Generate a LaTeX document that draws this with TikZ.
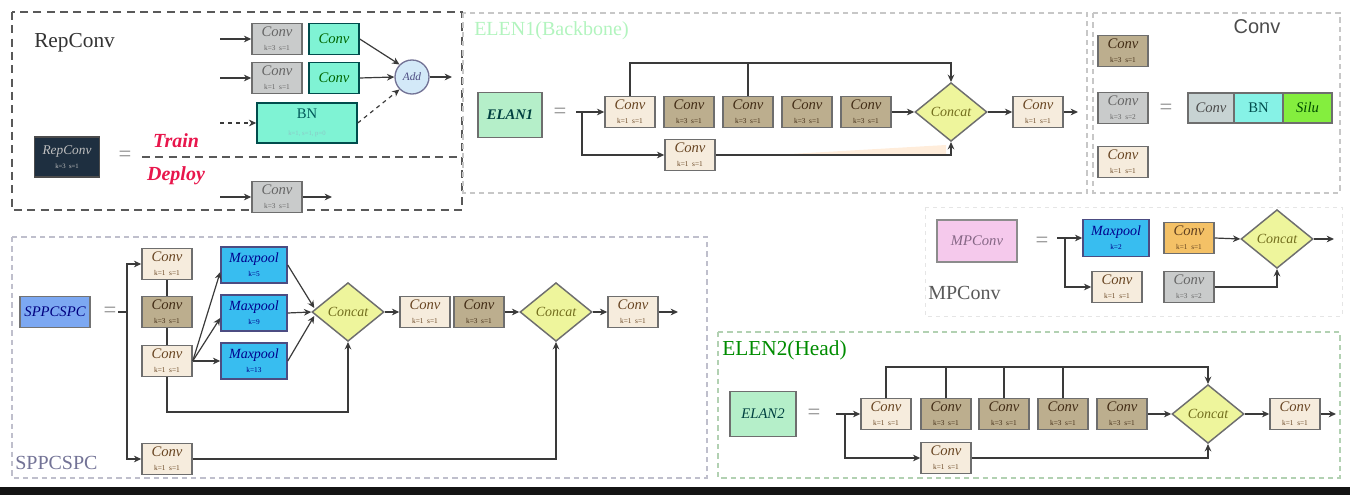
\documentclass[tikz,border=0pt]{standalone}
\usepackage{fontspec}
\setmainfont{Liberation Serif}
\newfontfamily\sansfam{Liberation Sans}
\usetikzlibrary{arrows.meta,shapes.geometric,calc}

\definecolor{creamc}{HTML}{F6ECDD}
\definecolor{tanc}{HTML}{BCAE8E}
\definecolor{greyc}{HTML}{C9CBCB}
\definecolor{tealc}{HTML}{7FF3D4}
\definecolor{poolc}{HTML}{38BDF0}
\definecolor{catc}{HTML}{EEF59C}
\definecolor{mintc}{HTML}{B5EFC9}
\definecolor{sppc}{HTML}{7CA8F2}
\definecolor{pinkc}{HTML}{F5C9EC}
\definecolor{navyc}{HTML}{1E2F40}
\definecolor{addc}{HTML}{D3E9F8}
\definecolor{orangec}{HTML}{F4C166}
\definecolor{bnc}{HTML}{86F2E6}
\definecolor{siluc}{HTML}{84EE3E}
\definecolor{convgc}{HTML}{C7D3D3}
\definecolor{linec}{HTML}{3A3A3A}
\definecolor{edgec}{HTML}{6E6E6E}
\definecolor{trainc}{HTML}{E8164C}

% label inside a Conv block: name plus kernel/stride line
\newcommand\ks[2]{{\fontsize{11}{10}\selectfont\itshape Conv}\\[-1.5pt]{\fontsize{5.5}{6}\selectfont k=#1\enspace s=#2}}
\newcommand\mpk[1]{{\fontsize{10.5}{10}\selectfont\itshape Maxpool}\\[-1.5pt]{\fontsize{5.5}{6}\selectfont k=#1}}

\begin{document}
\begin{tikzpicture}[x=0.75pt,y=-0.75pt,
  flow/.style={draw=linec, line width=0.9pt},
  arr/.style={flow, -{Stealth[length=5.5pt,width=5pt]}},
  blk/.style={draw=edgec, line width=1.1pt, inner sep=0pt, align=center,
              minimum width=37.5pt, minimum height=23.5pt},
  cvcream/.style={blk, fill=creamc, text=brown!55!black},
  cvtan/.style={blk, fill=tanc, text=brown!35!black},
  cvgrey/.style={blk, fill=greyc, text=black!60},
  cvorange/.style={blk, fill=orangec, text=brown!50!black},
  cvteal/.style={blk, fill=tealc, draw=teal!60!black, text=green!40!black,
                 font=\fontsize{11}{11}\selectfont\itshape},
  pool/.style={blk, fill=poolc, draw=blue!30!black!70, text=blue!55!black,
               minimum width=49.5pt, minimum height=27pt},
  cat/.style={diamond, draw=edgec, line width=1.1pt, fill=catc, aspect=1.25,
              inner sep=0pt, minimum width=54pt, minimum height=44pt,
              font=\fontsize{10.5}{11}\selectfont\itshape, text=olive!75!black},
  bigbox/.style={draw=edgec, line width=1.2pt, inner sep=0pt, align=center,
                 font=\fontsize{11}{12}\selectfont\itshape},
  eq/.style={font=\fontsize{17}{17}\selectfont, text=black!45, inner sep=0pt},
  ttl/.style={font=\fontsize{15}{17}\selectfont, inner sep=0pt, anchor=west},
  lab/.style={font=\fontsize{15}{17}\selectfont\bfseries\itshape, text=trainc, inner sep=0pt},
  repframe/.style={draw=black!65, line width=1pt, dash pattern=on 6pt off 4pt},
  greyframe/.style={draw=black!22, line width=0.8pt, dash pattern=on 4pt off 3pt},
  sppframe/.style={draw=blue!20!black!25, line width=0.8pt, dash pattern=on 4pt off 3pt},
  greenframe/.style={draw=green!40!black!30, line width=0.8pt, dash pattern=on 4pt off 3pt},
  faintframe/.style={draw=black!10, line width=0.7pt, dash pattern=on 3pt off 3pt},
  stripe/.style={draw=edgec, line width=1.1pt, inner sep=0pt, minimum height=22.5pt}
]
\useasboundingbox (0,0) rectangle (1350,495);

% bottom rule
\fill[black!92] (0,487) rectangle (1350,495);

% ================= RepConv =================
\draw[repframe] (12,12) rectangle (462,210);
\draw[repframe] (142,157) -- (462,157);
\node[ttl, text=black!80, font=\fontsize{16}{18}\selectfont] (rptitle) at (34,43) {RepConv};

\node[cvgrey] (r1) at (277,39) {\ks{3}{1}};
\node[cvteal] (t1) at (334,39) {Conv};
\node[cvgrey] (r2) at (277,78) {\ks{1}{1}};
\node[cvteal] (t2) at (334,78) {Conv};
\node[circle, draw=blue!25!black!55, line width=1pt, fill=addc, minimum size=25.5pt,
      inner sep=0pt, font=\fontsize{8.5}{8}\selectfont\itshape, text=blue!30!black!70] (add) at (412,77) {Add};
\node[blk, fill=tealc, draw=teal!60!black, minimum width=75pt, minimum height=30pt] (bn) at (307,123)
  {{\fontsize{11}{10}\selectfont\color{teal!70!black}BN}\\[1pt]{\fontsize{5}{6}\selectfont\color{teal!45} k=1, s=1, p=0}};

\coordinate (r1in) at (220,39);
\coordinate (r2in) at (220,78);
\coordinate (bnin) at (220,123);
\coordinate (addout) at (452,77);
\draw[arr] (r1in) -- (r1.west);
\draw[arr] (r2in) -- (r2.west);
\draw[arr, dashed] (bnin) -- (bn.west);
\draw[arr] (t1.east) -- (add.135);
\draw[arr] (t2.east) -- (add.west);
\draw[arr, dashed] (bn.east) -- (add.225);
\draw[arr] (add.east) -- (addout);

\node[bigbox, fill=navyc, draw=black!70, minimum width=49pt, minimum height=30pt, text=black!25] (rc) at (67,157)
  {{\fontsize{10}{10}\selectfont\itshape RepConv}\\[-1pt]{\fontsize{5}{6}\selectfont\upshape k=3\enspace s=1}};
\node[eq] (eq1) at (125,156) {=};
\node[lab] (train) at (176,141) {Train};
\node[lab] (deploy) at (176,176) {Deploy};

\node[cvgrey] (r3) at (277,197) {\ks{3}{1}};
\coordinate (r3in) at (220,197);
\coordinate (r3out) at (332,197);
\draw[arr] (r3in) -- (r3.west);
\draw[arr] (r3.east) -- (r3out);

% ================= ELEN1 (Backbone) =================
\draw[greyframe] (463,13) rectangle (1087,193);
\node[ttl, text=teal!30!green!30] (e1title) at (474,31) {ELEN1(Backbone)};
\node[bigbox, fill=mintc, minimum width=48pt, minimum height=34pt, text=teal!50!black, font=\fontsize{11}{12}\selectfont\bfseries\itshape] (elan1) at (510,115) {ELAN1};
\node[eq] (eq2) at (560,113) {=};

\node[cvcream] (e1c1) at (630,112) {\ks{1}{1}};
\node[cvtan] (e1c2) at (689,112) {\ks{3}{1}};
\node[cvtan] (e1c3) at (748,112) {\ks{3}{1}};
\node[cvtan] (e1c4) at (807,112) {\ks{3}{1}};
\node[cvtan] (e1c5) at (866,112) {\ks{3}{1}};
\node[cat] (d1) at (951,112) {Concat};
\node[cvcream] (e1c6) at (1038,112) {\ks{1}{1}};
\node[cvcream] (e1c7) at (690,155) {\ks{1}{1}};

\fill[orange!20, opacity=0.7] (790,154) -- (946,145) -- (946,154) -- cycle;

\coordinate (e1in) at (576,112);
\coordinate (e1split) at (582,112);
\coordinate (e1top) at (951,63);
\coordinate (e1out) at (1078,112);
\draw[arr] (e1in) -- (e1c1.west);
\draw[arr] (e1split) |- (e1c7.west);
\draw[arr] (e1c7.east) -| (d1.south);
\draw[arr] (e1c1.north) |- (e1top) -- (d1.north);
\draw[flow] (e1c3.north) -- (e1c3.north |- e1top);
\draw[arr] (e1c5.east) -- (d1.west);
\draw[arr] (d1.east) -- (e1c6.west);
\draw[arr] (e1c6.east) -- (e1out);

% ================= Conv legend =================
\draw[greyframe] (1093,13) rectangle (1340,193);
\node[ttl, anchor=center, font=\sansfam\fontsize{15}{17}\selectfont, text=black!70] (cvtitle) at (1257,27) {Conv};
\node[cvtan] (lg1) at (1123,51) {\ks{3}{1}};
\node[cvgrey] (lg2) at (1123,108) {\ks{3}{2}};
\node[cvcream] (lg3) at (1123,162) {\ks{1}{1}};
\node[eq] (eq3) at (1166,109) {=};
\node[stripe, fill=convgc, minimum width=34.5pt, font=\fontsize{11}{11}\selectfont\itshape, text=black!70] (sc) at (1211,108) {Conv};
\node[stripe, fill=bnc, minimum width=36.75pt, font=\fontsize{11}{11}\selectfont, text=teal!60!black] (sb) at (1258.5,108) {BN};
\node[stripe, fill=siluc, minimum width=36.75pt, font=\fontsize{11}{11}\selectfont\itshape, text=green!30!black] (ss) at (1307.5,108) {Silu};

% ================= SPPCSPC =================
\draw[sppframe] (12,237) rectangle (707,478);
\node[bigbox, fill=sppc, draw=black!55, minimum width=52.5pt, minimum height=23pt, text=blue!50!black] (spp) at (55,312) {SPPCSPC};
\node[eq] (eq4) at (110,312) {=};
\node[ttl, text=blue!25!black!55] (spptitle) at (15,463) {SPPCSPC};

\node[cvcream] (s1) at (167,264) {\ks{1}{1}};
\node[cvtan] (s2) at (167,312) {\ks{3}{1}};
\node[cvcream] (s3) at (167,361) {\ks{1}{1}};
\node[cvcream] (s4) at (167,459) {\ks{1}{1}};
\node[pool] (mp1) at (254,265) {\mpk{5}};
\node[pool] (mp2) at (254,313) {\mpk{9}};
\node[pool] (mp3) at (254,361) {\mpk{13}};
\node[cat] (d2) at (348,312) {Concat};
\node[cvcream] (s5) at (425,312) {\ks{1}{1}};
\node[cvtan] (s6) at (479,312) {\ks{3}{1}};
\node[cat] (d3) at (556,312) {Concat};
\node[cvcream] (s7) at (633,312) {\ks{1}{1}};

\coordinate (sppin) at (118,312);
\coordinate (sppv) at (127,312);
\coordinate (s3dn) at (167,412);
\coordinate (sppout) at (678,312);
\draw[flow] (sppin) -- (sppv);
\draw[arr] (sppv) |- (s1.west);
\draw[arr] (sppv) |- (s4.west);
\draw[flow] (s1.south) -- (s2.north);
\draw[flow] (s2.south) -- (s3.north);
\draw[arr] (s3.south) -- (s3dn) -| (d2.south);
\draw[arr] (s3.east) -- ($(mp1.west)+(0,7)$);
\draw[arr] (s3.east) -- ($(mp2.west)+(0,5)$);
\draw[arr] (s3.east) -- (mp3.west);
\draw[arr] (mp1.east) -- ($(d2.west)+(3,-4)$);
\draw[arr] (mp2.east) -- (d2.west);
\draw[arr] (mp3.east) -- ($(d2.west)+(3,4)$);
\draw[arr] (d2.east) -- (s5.west);
\draw[arr] (s6.east) -- (d3.west);
\draw[arr] (d3.east) -- (s7.west);
\draw[arr] (s7.east) -- (sppout);
\draw[arr] (s4.east) -| (d3.south);

% ================= MPConv =================
\draw[faintframe] (925,207) rectangle (1342,316);
\node[bigbox, fill=pinkc, draw=black!45, minimum width=60pt, minimum height=31.5pt, text=violet!40!black!60] (mpc) at (977,241) {MPConv};
\node[eq] (eq5) at (1042,242) {=};
\node[ttl, text=black!65] (mptitle) at (928,293) {MPConv};

\node[pool, minimum height=28pt] (mpm) at (1116,238) {\mpk{2}};
\node[cvorange] (mpo) at (1189,238) {\ks{1}{1}};
\node[cat] (mpd) at (1277,239) {Concat};
\node[cvcream] (mpa) at (1117,287) {\ks{1}{1}};
\node[cvgrey] (mpb) at (1189,287) {\ks{3}{2}};

\coordinate (mpin) at (1057,238);
\coordinate (mpsplit) at (1065,238);
\coordinate (mpout) at (1334,239);
\draw[arr] (mpin) -- (mpm.west);
\draw[arr] (mpsplit) |- (mpa.west);
\draw[arr] (mpo.east) -- (mpd.west);
\draw[arr] (mpb.east) -| (mpd.south);
\draw[arr] (mpd.east) -- (mpout);

% ================= ELEN2 (Head) =================
\draw[greenframe] (718,332) rectangle (1340,478);
\node[ttl, text=green!55!black, font=\fontsize{16}{18}\selectfont] (e2title) at (722,350) {ELEN2(Head)};
\node[bigbox, fill=mintc, minimum width=49.5pt, minimum height=34pt, text=teal!50!black] (elan2) at (763,414) {ELAN2};
\node[eq] (eq6) at (814,414) {=};

\node[cvcream] (e2c1) at (886,414) {\ks{1}{1}};
\node[cvtan] (e2c2) at (946,414) {\ks{3}{1}};
\node[cvtan] (e2c3) at (1004,414) {\ks{3}{1}};
\node[cvtan] (e2c4) at (1063,414) {\ks{3}{1}};
\node[cvtan] (e2c5) at (1122,414) {\ks{3}{1}};
\node[cat] (d4) at (1208,414) {Concat};
\node[cvcream] (e2c6) at (1295,414) {\ks{1}{1}};
\node[cvcream] (e2c7) at (946,458) {\ks{1}{1}};

\coordinate (e2in) at (836,414);
\coordinate (e2split) at (845,414);
\coordinate (e2top) at (1208,367);
\coordinate (e2out) at (1336,414);
\draw[arr] (e2in) -- (e2c1.west);
\draw[arr] (e2split) |- (e2c7.west);
\draw[arr] (e2c7.east) -| (d4.south);
\draw[arr] (e2c1.north) |- (e2top) -- (d4.north);
\draw[flow] (e2c2.north) -- (e2c2.north |- e2top);
\draw[flow] (e2c3.north) -- (e2c3.north |- e2top);
\draw[flow] (e2c4.north) -- (e2c4.north |- e2top);
\draw[arr] (e2c5.east) -- (d4.west);
\draw[arr] (d4.east) -- (e2c6.west);
\draw[arr] (e2c6.east) -- (e2out);
\end{tikzpicture}
\end{document}
